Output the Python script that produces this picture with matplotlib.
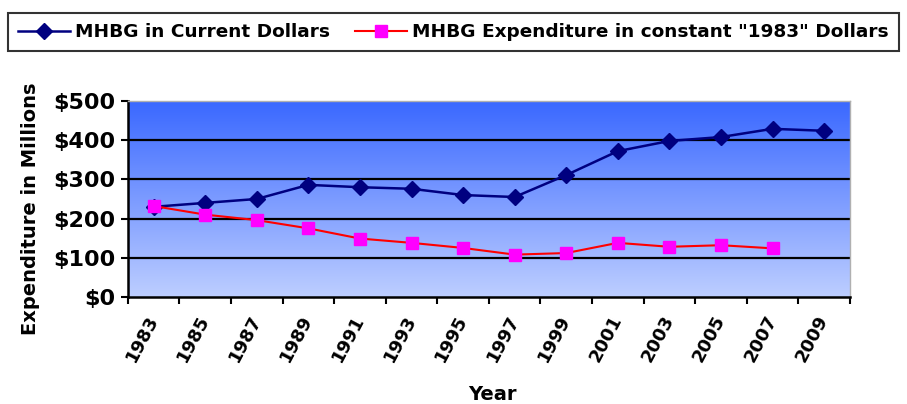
import matplotlib.pyplot as plt
import numpy as np

# Data
years = ["1983", "1985", "1987", "1989", "1991", "1993", "1995",
         "1997", "1999", "2001", "2003", "2005", "2007", "2009"]
current = [230, 240, 250, 286, 280, 276, 260, 255, 311, 372, 398, 408, 429, 424]
constant = [232, 210, 196, 175, 149, 138, 125, 108, 112, 138, 128, 132, 124]

plt.rcParams['font.family'] = ['DejaVu Sans']

fig = plt.figure(figsize=(9.07, 4.04), dpi=100)
ax = fig.add_axes([0.141, 0.265, 0.796, 0.485])

x = np.arange(len(years))

# gradient background, dark blue at top fading to pale blue
grad = np.linspace(0, 1, 256).reshape(-1, 1)
top = np.array([0x3a, 0x68, 0xff]) / 255
bot = np.array([0xbd, 0xce, 0xff]) / 255
img = top + (bot - top) * grad[:, :, None]
ax.imshow(img, extent=[0, 1, 0, 1], transform=ax.transAxes, aspect='auto', zorder=0)

for v in [100, 200, 300, 400]:
    ax.axhline(v, color='black', lw=1.6, zorder=1)

ax.plot(x, current, color='#000080', lw=1.8, marker='D', ms=8,
        markerfacecolor='#000080', markeredgecolor='#000080', zorder=3,
        label='MHBG in Current Dollars')
ax.plot(x[:len(constant)], constant, color='#ff0000', lw=1.5, marker='s', ms=9,
        markerfacecolor='#ff00ff', markeredgecolor='#ff00ff', zorder=4,
        label='MHBG Expenditure in constant "1983" Dollars')

ax.set_xlim(-0.5, len(years) - 0.5)
ax.set_ylim(0, 500)
ax.set_yticks([0, 100, 200, 300, 400, 500])
ax.set_yticklabels(['$%d' % v for v in [0, 100, 200, 300, 400, 500]],
                   fontsize=16, fontweight='bold')
ax.set_xticks(np.arange(-0.5, len(years)), minor=False)
ax.set_xticklabels([])
ax.set_xticks(x, minor=True)
ax.set_xticklabels(years, minor=True, rotation=62, fontsize=13, fontweight='bold',
                   ha='right', va='center', rotation_mode='anchor')
ax.tick_params(axis='x', which='minor', length=0, pad=14)
ax.tick_params(axis='x', which='major', length=5, width=1.5)
ax.tick_params(axis='y', length=5, width=1.5, pad=4)

for s in ['left', 'bottom']:
    ax.spines[s].set_linewidth(1.8)
for s in ['top', 'right']:
    ax.spines[s].set_color('#b0b0b0')
    ax.spines[s].set_linewidth(1)

ax.set_ylabel('Expenditure in Millions', fontsize=14, fontweight='bold')
ax.yaxis.set_label_coords(-0.122, 0.45)
fig.text(0.543, 0.01, 'Year', fontsize=14, fontweight='bold', ha='center')

leg = fig.legend(loc='upper center', bbox_to_anchor=(0.5, 0.968), ncol=2,
                 prop={'size': 13.3, 'weight': 'bold'}, frameon=True, fancybox=False,
                 edgecolor='black', handlelength=2.8, columnspacing=1.35,
                 borderpad=0.55, handletextpad=0.3, borderaxespad=0)
leg.get_frame().set_linewidth(1.5)

fig.savefig('out.png', dpi=100)
